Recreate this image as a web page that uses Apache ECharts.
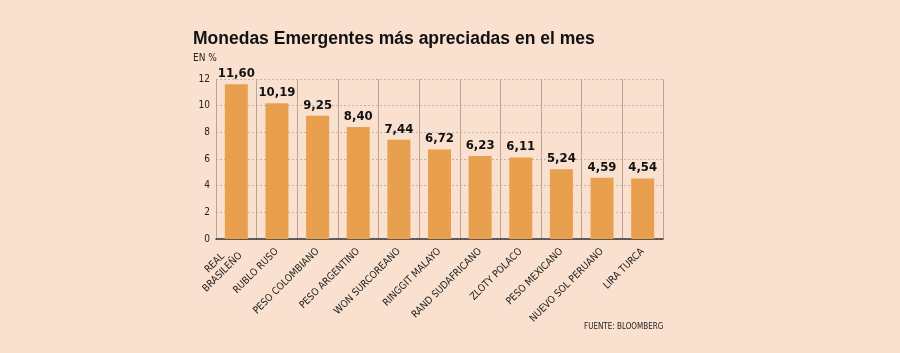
<!DOCTYPE html>
<html>
<head>
<meta charset="utf-8">
<script src="https://cdn.jsdelivr.net/npm/echarts@6/dist/echarts.min.js"></script>
<style>
  html, body { margin: 0; padding: 0; background: #f9e0cf; }
  #chart { width: 900px; height: 353px; }
</style>
</head>
<body>
<div id="chart"></div>
<script>
// monedas y apreciacion en el mes (%)
var monedas = ['REAL\nBRASILEÑO', 'RUBLO RUSO', 'PESO COLOMBIANO', 'PESO ARGENTINO', 'WON SURCOREANO',
  'RINGGIT MALAYO', 'RAND SUDAFRICANO', 'ZLOTY POLACO', 'PESO MEXICANO', 'NUEVO SOL PERUANO', 'LIRA TURCA'];
var valores = [11.60, 10.19, 9.25, 8.40, 7.44, 6.72, 6.23, 6.11, 5.24, 4.59, 4.54];

var fuente = 'DejaVu Sans Condensed, DejaVu Sans';

var chart = echarts.init(document.getElementById('chart'));
var option = {
  backgroundColor: '#f9e0cf',
  animation: false,
  title: [
    {
      text: 'Monedas Emergentes más apreciadas en el mes',
      left: 188, top: 25,
      textStyle: { fontFamily: 'Liberation Sans, Arial', fontWeight: 'bold', fontSize: 17.5, color: '#111' }
    },
    {
      text: 'EN %',
      left: 188, top: 48,
      textStyle: { fontFamily: fuente, fontWeight: 'normal', fontSize: 10, color: '#222' }
    },
    {
      text: 'FUENTE: BLOOMBERG',
      left: 579, top: 318,
      textStyle: { fontFamily: fuente, fontWeight: 'normal', fontSize: 8, color: '#222' }
    }
  ],
  grid: { left: 216, right: 237, top: 79, bottom: 114 },
  xAxis: {
    type: 'category',
    data: monedas,
    boundaryGap: true,
    axisLine: { show: true, lineStyle: { color: '#333', width: 1.5 } },
    axisTick: { show: false },
    splitLine: { show: true, lineStyle: { color: '#b9a596', width: 1 } },
    axisLabel: {
      interval: 0, rotate: 45, margin: 11,
      fontFamily: fuente, fontSize: 10, color: '#222',
      lineHeight: 12, align: 'right',
      formatter: function (v) {
        var partes = v.split('\n');
        if (partes.length < 2) return v;
        return '{a|' + partes[0] + '}\n{b|' + partes[1] + '}';
      },
      rich: {
        a: { fontFamily: fuente, fontSize: 10, color: '#222', padding: [0, 13, 0, 0] },
        b: { fontFamily: fuente, fontSize: 10, color: '#222' }
      }
    }
  },
  yAxis: {
    type: 'value',
    min: 0, max: 12, interval: 2,
    axisLine: { show: false },
    axisTick: { show: false },
    splitLine: { show: true, lineStyle: { color: '#c5b2a4', type: [2, 2], width: 1 } },
    axisLabel: { margin: 6, fontFamily: fuente, fontSize: 10, color: '#222' }
  },
  series: [{
    type: 'bar',
    data: valores,
    barWidth: 23,
    itemStyle: { color: '#e9a04e' },
    label: {
      show: true, position: 'top', distance: 4,
      fontFamily: 'DejaVu Sans Condensed, DejaVu Sans', fontWeight: 'bold', fontSize: 13, color: '#111',
      formatter: function (p) { return p.value.toFixed(2).replace('.', ','); }
    }
  }]
};
chart.setOption(option);
</script>
</body>
</html>
